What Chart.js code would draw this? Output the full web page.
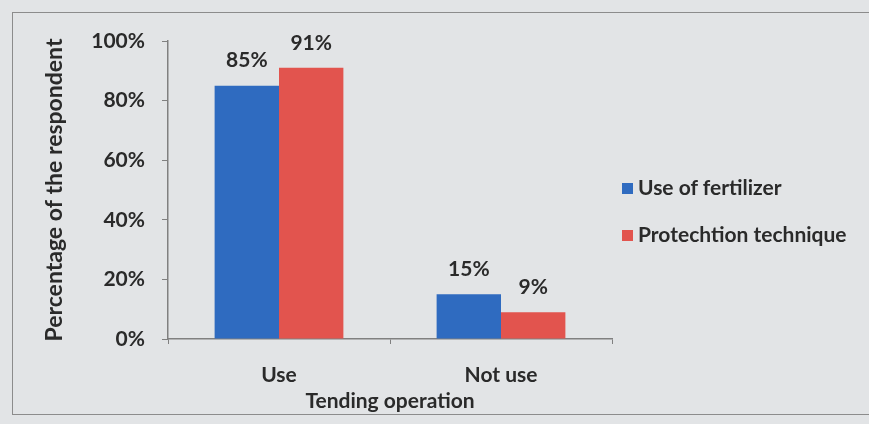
<!DOCTYPE html>
<html>
<head>
<meta charset="utf-8">
<script src="https://cdn.jsdelivr.net/npm/chart.js@4/dist/chart.umd.min.js"></script>
<style>
  html, body { margin: 0; padding: 0; background: #e2e4e6; }
  #wrap { position: relative; width: 869px; height: 424px; overflow: hidden; }
  #frame { position: absolute; left: 12px; top: 12px; width: 900px; height: 401px; border: 1.5px solid #8c8c8c; }
  #chart { position: absolute; left: 0; top: 0; }
  #legend { position: absolute; left: 622px; top: 175px; font: bold 21px Lato, sans-serif; color: #2a2a2a; }
  #legend div { height: 47px; line-height: 24px; white-space: nowrap; }
  #legend span.box { display: inline-block; width: 11px; height: 11px; margin-right: 5px; vertical-align: 1px; }
</style>
</head>
<body>
<div id="wrap">
  <div id="frame"></div>
  <canvas id="chart" width="869" height="424"></canvas>
  <div id="legend"></div>
</div>
<script>
// data
const categories = ['Use', 'Not use'];
const fertilizer = [85, 15];
const protection = [91, 9];
const seriesNames = ['Use of fertilizer', 'Protechtion technique'];
const yTicks = [0, 20, 40, 60, 80, 100];

const textColor = '#2a2a2a';
const axisColor = '#808080';
const fontFamily = 'Lato, sans-serif';

// label nilai di atas batang
const valueLabels = {
    id: 'valueLabels',
    afterDatasetsDraw(chart) {
        const ctx = chart.ctx;
        ctx.save();
        ctx.font = 'bold 21px ' + fontFamily;
        ctx.fillStyle = textColor;
        ctx.textAlign = 'center';
        ctx.textBaseline = 'middle';
        chart.data.datasets.forEach((ds, i) => {
            chart.getDatasetMeta(i).data.forEach((bar, j) => {
                ctx.fillText(ds.data[j] + '%', bar.x, bar.y - 25);
            });
        });
        ctx.restore();
    }
};

const chart = new Chart(document.getElementById('chart').getContext('2d'), {
    type: 'bar',
    data: {
        labels: categories,
        datasets: [
            { label: seriesNames[0], data: fertilizer, backgroundColor: '#2f6bc0', borderWidth: 0 },
            { label: seriesNames[1], data: protection, backgroundColor: '#e2544e', borderWidth: 0 }
        ]
    },
    options: {
        responsive: false,
        animation: false,
        devicePixelRatio: 1,
        layout: { padding: { left: 41, right: 257, top: 41, bottom: 10 } },
        datasets: { bar: { categoryPercentage: 0.58, barPercentage: 1 } },
        plugins: {
            legend: { display: false },
            tooltip: { enabled: false }
        },
        scales: {
            x: {
                offset: true,
                grid: { offset: true, drawOnChartArea: false, color: axisColor, tickLength: 5, tickColor: axisColor },
                border: { color: axisColor, width: 1.5 },
                ticks: { color: textColor, padding: 19, font: { family: fontFamily, size: 21, weight: 'bold' } },
                title: { display: true, text: 'Tending operation', color: textColor, padding: { top: 0, bottom: 0 }, font: { family: fontFamily, size: 21, weight: 'bold' } },
                afterFit(scale) { scale.height = 75; }
            },
            y: {
                min: 0,
                max: 100,
                afterBuildTicks(scale) { scale.ticks = yTicks.map(v => ({ value: v })); },
                grid: { drawOnChartArea: false, color: axisColor, tickLength: 6, tickColor: axisColor },
                border: { color: axisColor, width: 1.5 },
                ticks: { color: textColor, padding: 17, font: { family: fontFamily, size: 21, weight: 'bold' }, callback: v => v + '%' },
                title: { display: true, text: 'Percentage of the respondent', color: textColor, padding: { top: 0, bottom: 0 }, font: { family: fontFamily, size: 23, weight: 'bold' } },
                afterFit(scale) { scale.width = 127; }
            }
        }
    },
    plugins: [valueLabels]
});

// legend HTML di kanan
function renderLegend(chart) {
    const items = chart.options.plugins.legend.labels.generateLabels(chart);
    let html = '';
    items.forEach(item => {
        html += `<div><span class="box" style="background:${item.fillStyle}"></span>${item.text}</div>`;
    });
    document.getElementById('legend').innerHTML = html;
}
renderLegend(chart);
</script>
</body>
</html>
